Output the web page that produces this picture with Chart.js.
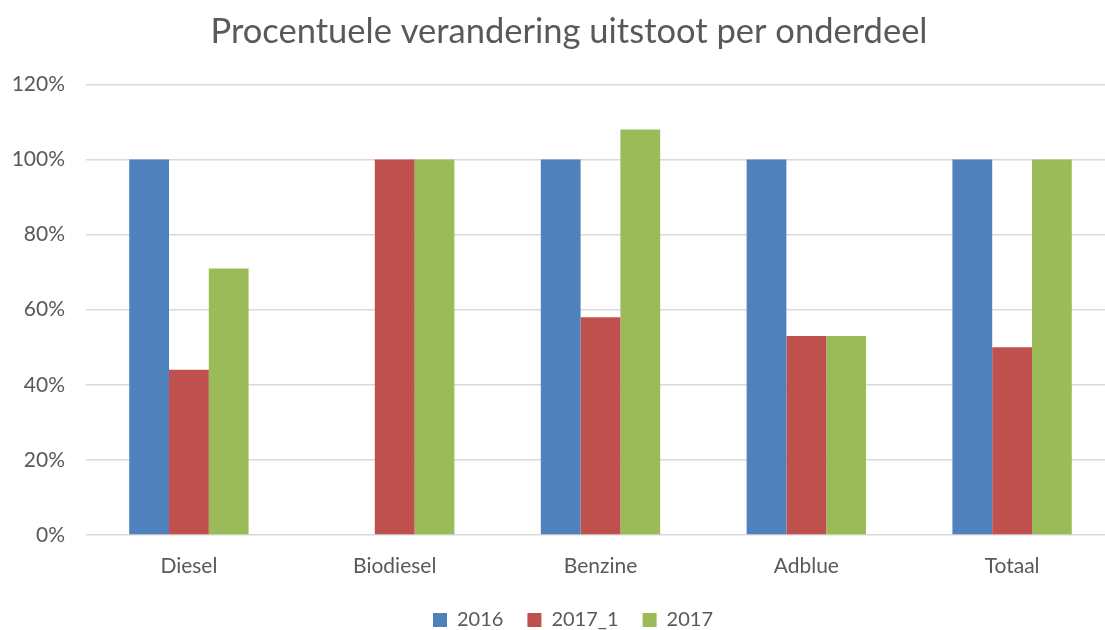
<!DOCTYPE html>
<html>
<head>
<meta charset="utf-8">
<script src="https://cdn.jsdelivr.net/npm/chart.js@4"></script>
<style>
  html, body { margin: 0; padding: 0; background: #fff; overflow: hidden; }
  #wrap { width: 1105px; height: 630px; overflow: hidden; }
</style>
</head>
<body>
<div id="wrap"><canvas id="chart" width="1138" height="630"></canvas></div>
<script>
// Chart data
const categories = ['Diesel', 'Biodiesel', 'Benzine', 'Adblue', 'Totaal'];
const seriesNames = ['2016', '2017_1', '2017'];
const values2016 = [100, 0, 100, 100, 100];
const values2017_1 = [44, 100, 58, 53, 50];
const values2017 = [71, 100, 108, 53, 100];
const colors = ['#4F81BD', '#C0504D', '#9BBB59'];

const textColor = '#595959';
const fontFamily = 'Lato, "Open Sans", sans-serif';

// The plot runs past the right edge in the original, so the canvas is wider than the window.
// That pulls the title and legend to the left; this nudges them back to the middle.
const centerFix = {
  id: 'centerFix',
  afterLayout(chart) {
    chart.titleBlock.left += 23;
    chart.legend.left += 31;
  }
};

const ctx = document.getElementById('chart').getContext('2d');
new Chart(ctx, {
  type: 'bar',
  data: {
    labels: categories,
    datasets: [values2016, values2017_1, values2017].map((data, i) => ({
      label: seriesNames[i],
      data: data,
      backgroundColor: colors[i],
      borderWidth: 0,
      categoryPercentage: 0.58,
      barPercentage: 1.0
    }))
  },
  plugins: [centerFix],
  options: {
    responsive: false,
    animation: false,
    layout: { padding: { left: 0, right: 23, top: 11, bottom: -10 } },
    plugins: {
      title: {
        display: true,
        text: 'Procentuele verandering uitstoot per onderdeel',
        color: textColor,
        font: { family: fontFamily, size: 34.5, weight: 'normal' },
        padding: { top: 0, bottom: 32 }
      },
      legend: {
        position: 'bottom',
        labels: {
          color: textColor,
          font: { family: fontFamily, size: 20 },
          boxWidth: 14,
          boxHeight: 14,
          padding: 24
        }
      },
      tooltip: { enabled: false }
    },
    scales: {
      x: {
        grid: { display: false },
        border: { display: false },
        ticks: { color: textColor, font: { family: fontFamily, size: 21 }, padding: 11 },
        afterFit: scale => { scale.height = 51; }
      },
      y: {
        min: 0,
        max: 120,
        ticks: {
          stepSize: 20,
          color: textColor,
          font: { family: fontFamily, size: 21 },
          padding: 21,
          callback: v => v + '%'
        },
        grid: { color: '#D9D9D9', lineWidth: 1.5, drawTicks: false },
        border: { display: false },
        afterFit: scale => { scale.width = 86; }
      }
    }
  }
});
</script>
</body>
</html>
